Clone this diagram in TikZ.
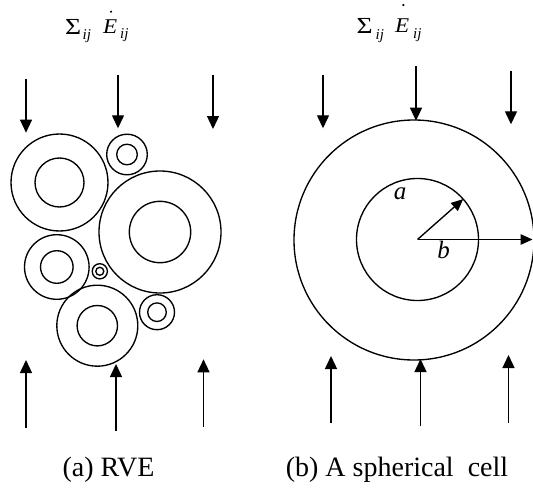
\documentclass[tikz,border=0pt]{standalone}
\usepackage{fontspec}
\setmainfont{Liberation Serif}
\usetikzlibrary{arrows.meta}
\begin{document}
\begin{tikzpicture}[x=1pt,y=-1pt,
  ring/.style={line width=1.35pt},
  load/.style={line width=1.35pt,-{Triangle[length=13pt,width=12pt]}},
  radius arrow/.style={line width=1.35pt,-{Triangle[length=12pt,width=10.5pt]}},
  sig/.style={inner sep=0pt,anchor=base west,font=\fontsize{23}{23}\selectfont,xscale=1.2,transform shape},
  sub/.style={inner sep=0pt,anchor=base west,font=\fontsize{15}{15}\selectfont\itshape},
  ee/.style={inner sep=0pt,anchor=base west,font=\fontsize{21}{21}\selectfont\itshape,xscale=1.1,transform shape},
  lab/.style={inner sep=0pt,font=\fontsize{25}{25}\selectfont\itshape},
  captext/.style={inner sep=0pt,anchor=base,font=\fontsize{28}{28}\selectfont}]
\useasboundingbox (0,0) rectangle (533,495);

% ---- top labels
\node[sig] (S1) at (65,35) {Σ};
\node[sub] (s1) at (82.5,40) {ij};
\node[ee] (E1) at (103,34) {E};
\node[sub] (e1) at (120,39) {ij};
\coordinate (d1) at (111,11.7);
\fill (d1) circle (1.2pt);

\node[sig] (S2) at (356.5,33.3) {Σ};
\node[sub] (s2) at (375.5,39.5) {ij};
\node[ee] (E2) at (395,32.7) {E};
\node[sub] (e2) at (413,38.5) {ij};
\coordinate (d2) at (403.3,5);
\fill (d2) circle (1.2pt);

% ---- RVE particles
\foreach \n/\cx/\cy/\ro/\ri in {c1/59.5/182.5/48.5/24.5, c2/127/154.5/20.3/10.3,
  c3/160/232/61/30.7, c4/56.8/267/32.3/16.3, c5/99.8/271.3/7.6/4,
  c6/97.3/325.7/40.5/20.2, c7/157/312.2/17.5/9.3}{
  \coordinate (\n) at (\cx,\cy);
  \draw[ring] (\n) circle (\ro);
  \draw[ring] (\n) circle (\ri);
}

% ---- spherical cell
\coordinate (C) at (414,240);
\coordinate (O) at (417.5,239.5);
\draw[ring] (C) circle (120);
\draw[ring] (O) circle (61);
\coordinate (A) at (463.2,199.1);
\coordinate (B) at (532.5,239.5);
\draw[radius arrow] (O) -- (A);
\draw[radius arrow] (O) -- (B);
\node[lab] (la) at (400,194) {a};
\node[lab] (lb) at (443.5,250) {b};

% ---- loads, left
\coordinate (t1s) at (26,79);    \coordinate (t1e) at (26,132.7);
\coordinate (t2s) at (118,74.7); \coordinate (t2e) at (118,128.3);
\coordinate (t3s) at (213,74.7); \coordinate (t3e) at (213,129);
\coordinate (b1s) at (26,428.3); \coordinate (b1e) at (26,360);
\coordinate (b2s) at (116,431);  \coordinate (b2e) at (116,364);
\coordinate (b3s) at (203.5,426.7); \coordinate (b3e) at (203.5,359.3);
% ---- loads, right
\coordinate (t4s) at (323,74.7); \coordinate (t4e) at (323,128.3);
\coordinate (t5s) at (416,66.5); \coordinate (t5e) at (416,120.7);
\coordinate (t6s) at (511,70.6); \coordinate (t6e) at (511,124.3);
\coordinate (b4s) at (331,423.3); \coordinate (b4e) at (331,356);
\coordinate (b5s) at (420.5,426); \coordinate (b5e) at (420.5,359);
\coordinate (b6s) at (508.5,422.7); \coordinate (b6e) at (508.5,355);
\foreach \k in {t1,t2,t3,t4,t5,t6,b1,b2,b3,b4,b5,b6}{
  \draw[load] (\k s) -- (\k e);
}

% ---- captions
\node[captext] (capa) at (108.5,476) {(a) RVE};
\node[captext] (capb) at (397,476) {(b) A spherical\ \ cell};
\end{tikzpicture}
\end{document}
